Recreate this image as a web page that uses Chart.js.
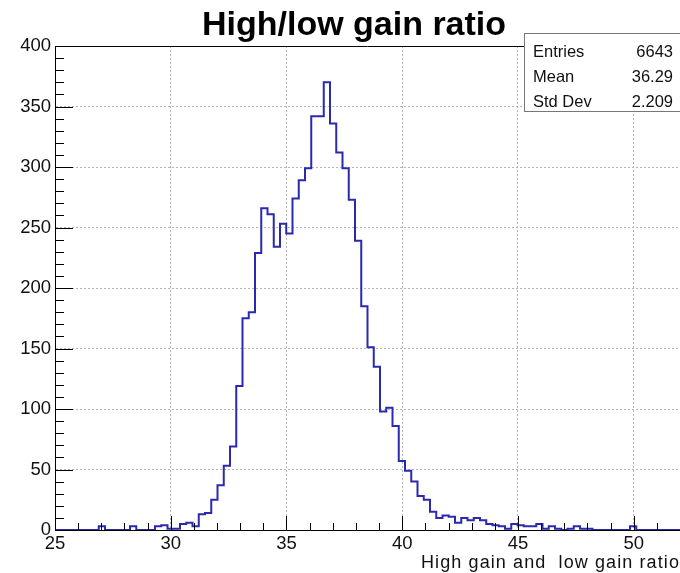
<!DOCTYPE html>
<html>
<head>
<meta charset="utf-8">
<script src="https://cdn.jsdelivr.net/npm/chart.js@4.4.0/dist/chart.umd.min.js"></script>
<style>
  html, body { margin: 0; padding: 0; background: #fff; }
  #wrap { width: 680px; height: 573px; }
</style>
</head>
<body>
<div id="wrap"><canvas id="histo" width="680" height="573"></canvas></div>
<script>
// High/low gain ratio histogram, 100 bins between 25 and 52

const xMin = 25;
const xMax = 52;

const counts = [
  0, 0, 0, 0, 0, 0, 0, 3, 0, 0,
  0, 0, 3, 0, 0, 0, 3, 4, 1, 1,
  5, 6, 3, 13, 14, 25, 37, 53, 69, 119,
  175, 180, 229, 266, 261, 234, 253, 245, 274, 289,
  299, 342, 342, 370, 336, 312, 299, 273, 239, 185,
  151, 135, 98, 101, 86, 57, 49, 40, 28, 25,
  15, 10, 12, 11, 6, 10, 8, 10, 8, 5,
  4, 3, 1, 5, 4, 3, 3, 5, 1, 3,
  1, 0, 1, 3, 1, 1, 0, 0, 0, 0,
  0, 0, 3, 0, 0, 0, 0, 0, 0, 0
];

const xTicks = [25, 30, 35, 40, 45, 50];
const yTicks = [0, 50, 100, 150, 200, 250, 300, 350, 400];

const titleText = 'High/low gain ratio';
const xTitle = 'High gain and  low gain ratio';
const statLabels = ['Entries', 'Mean', 'Std Dev'];
const statValues = ['6643', '36.29', '2.209'];

const FONT = "'Liberation Sans', Arial, sans-serif";
const LINE = '#2a2aae';

// step outline: one point per left bin edge, plus the closing right edge
const binWidth = (xMax - xMin) / counts.length;
const points = counts.map((c, i) => ({ x: xMin + i * binWidth, y: c }));
points.push({ x: xMax, y: counts[counts.length - 1] });

// ROOT-like decorations: frame, inward ticks, title, stats box, axis title
const rootFrame = {
  id: 'rootFrame',
  afterDraw(chart) {
    const { ctx, chartArea: a, scales: { x, y } } = chart;
    ctx.save();

    ctx.strokeStyle = '#000';
    ctx.lineWidth = 1;
    ctx.beginPath();
    ctx.moveTo(a.left, a.top + 0.5);
    ctx.lineTo(a.right, a.top + 0.5);
    for (let v = xMin; v <= xMax; v += 1) {
      const px = Math.round(x.getPixelForValue(v)) + 0.5;
      const len = v % 5 === 0 ? 14 : 7;
      ctx.moveTo(px, a.bottom);
      ctx.lineTo(px, a.bottom - len);
    }
    for (let v = 0; v <= 400; v += 10) {
      const py = Math.round(y.getPixelForValue(v)) + 0.5;
      const len = v % 50 === 0 ? 18 : 9;
      ctx.moveTo(a.left, py);
      ctx.lineTo(a.left + len, py);
    }
    ctx.stroke();

    // stats box
    ctx.fillStyle = '#fff';
    ctx.fillRect(524, 33, 170, 78);
    ctx.strokeStyle = '#777';
    ctx.strokeRect(524.5, 33.5, 170, 78);
    ctx.fillStyle = '#111';
    ctx.font = '16.5px ' + FONT;
    ctx.textBaseline = 'alphabetic';
    statLabels.forEach((lab, i) => {
      const by = 57 + i * 25;
      ctx.textAlign = 'left';
      ctx.fillText(lab, 533, by);
      ctx.textAlign = 'right';
      ctx.fillText(statValues[i], 673, by);
    });

    // title
    ctx.fillStyle = '#000';
    ctx.font = 'bold 34px ' + FONT;
    ctx.textAlign = 'center';
    ctx.fillText(titleText, 354, 35);

    // x axis title
    ctx.font = '18px ' + FONT;
    ctx.textAlign = 'left';
    ctx.fillStyle = '#111';
    if ('letterSpacing' in ctx) ctx.letterSpacing = '1.1px';
    ctx.fillText(xTitle, 421, 568);
    ctx.restore();
  }
};

const chart = new Chart(document.getElementById('histo'), {
  type: 'line',
  data: {
    datasets: [{
      data: points,
      stepped: 'before',
      borderColor: LINE,
      borderWidth: 2,
      pointRadius: 0,
      fill: false,
      tension: 0
    }]
  },
  options: {
    responsive: false,
    animation: false,
    devicePixelRatio: 1,
    layout: { padding: { top: 46, right: 0, bottom: 0, left: 0 } },
    plugins: { legend: { display: false }, tooltip: { enabled: false }, title: { display: false } },
    scales: {
      x: {
        type: 'linear', min: xMin, max: xMax,
        afterBuildTicks: s => { s.ticks = xTicks.map(v => ({ value: v })); },
        afterFit: s => { s.height = 43; },
        ticks: { color: '#111', font: { family: FONT, size: 18.5 }, padding: 3, maxRotation: 0 },
        grid: { color: '#b4b4b4', lineWidth: 1, drawTicks: false },
        border: { color: '#000', width: 1, dash: [2, 2] }
      },
      y: {
        min: 0, max: 400,
        afterBuildTicks: s => { s.ticks = yTicks.map(v => ({ value: v })); },
        afterFit: s => { s.width = 55; },
        ticks: { color: '#111', font: { family: FONT, size: 18.5 }, padding: 4 },
        grid: { color: '#b4b4b4', lineWidth: 1, drawTicks: false },
        border: { color: '#000', width: 1, dash: [2, 2] }
      }
    }
  },
  plugins: [rootFrame]
});
</script>
</body>
</html>
